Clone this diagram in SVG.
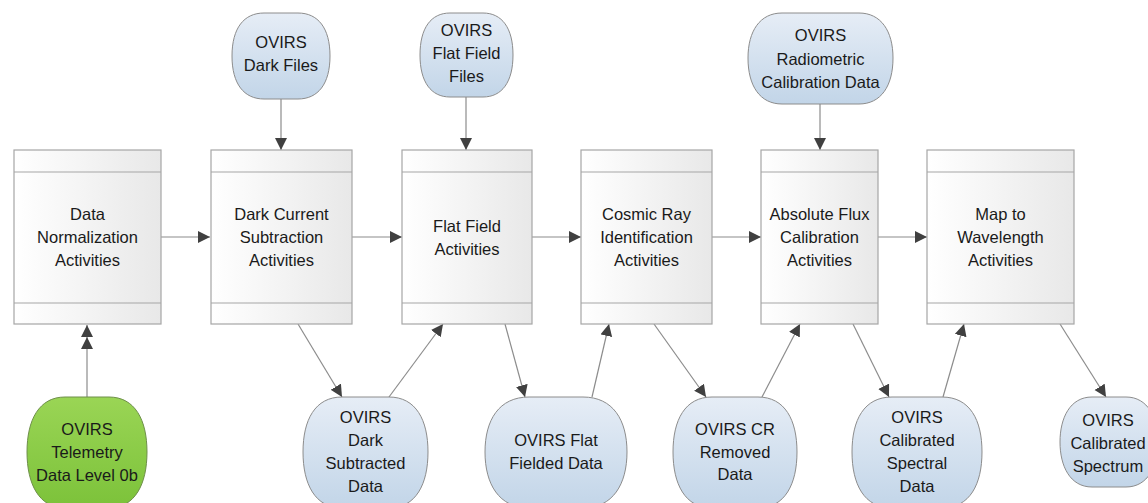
<svg xmlns="http://www.w3.org/2000/svg" width="1148" height="503" viewBox="0 0 1148 503">
<style>
text{font-family:"Liberation Sans",Arial,sans-serif;font-size:16.5px;fill:#1a1a1a;text-anchor:middle;dominant-baseline:central}
.box{fill:url(#gbox);stroke:#a6a6a6;stroke-width:1.2}
.sep{stroke:#a6a6a6;stroke-width:1.2}
.blue{fill:url(#gblue);stroke:#8c8c8c;stroke-width:1}
.green{fill:url(#ggreen);stroke:#6e8f4a;stroke-width:1}
.con{stroke:#8c8c8c;stroke-width:1.2;fill:none;marker-end:url(#arr)}
</style>
<defs>
<linearGradient id="gbox" x1="0" y1="0" x2="1" y2="0"><stop offset="0" stop-color="#ffffff"/><stop offset="1" stop-color="#e8e8e8"/></linearGradient>
<linearGradient id="gblue" x1="0" y1="0" x2="0" y2="1"><stop offset="0" stop-color="#e6edf6"/><stop offset="1" stop-color="#c2d5e8"/></linearGradient>
<linearGradient id="ggreen" x1="0" y1="0" x2="0" y2="1"><stop offset="0" stop-color="#9ad555"/><stop offset="1" stop-color="#7cc23a"/></linearGradient>
<marker id="arr" markerWidth="14" markerHeight="14" refX="12" refY="6" orient="auto" markerUnits="userSpaceOnUse"><path d="M0,0 L12,6 L0,12 Z" fill="#404040"/></marker>
<marker id="arr2" markerWidth="26" markerHeight="14" refX="24" refY="6" orient="auto" markerUnits="userSpaceOnUse"><path d="M12,0 L24,6 L12,12 Z M0,0 L12,6 L0,12 Z" fill="#404040"/></marker>
</defs>

<g id="connectors">
<line class="con" x1="161" y1="237" x2="210" y2="237"/>
<line class="con" x1="352" y1="237" x2="402" y2="237"/>
<line class="con" x1="532" y1="237" x2="581" y2="237"/>
<line class="con" x1="712" y1="237" x2="761" y2="237"/>
<line class="con" x1="878" y1="237" x2="927" y2="237"/>
<line class="con" x1="281" y1="99" x2="281" y2="150"/>
<line class="con" x1="466" y1="97" x2="466" y2="150"/>
<line class="con" x1="820" y1="104" x2="820" y2="150"/>
<line class="con" style="marker-end:url(#arr2)" x1="87" y1="397" x2="87" y2="325"/>
<line class="con" x1="298" y1="324" x2="342" y2="397"/>
<line class="con" x1="389" y1="397" x2="443" y2="324"/>
<line class="con" x1="505" y1="324" x2="525" y2="397"/>
<line class="con" x1="592" y1="397" x2="609" y2="324"/>
<line class="con" x1="654" y1="324" x2="706" y2="397"/>
<line class="con" x1="762" y1="397" x2="800" y2="324"/>
<line class="con" x1="853" y1="324" x2="889" y2="397"/>
<line class="con" x1="943" y1="397" x2="964" y2="324"/>
<line class="con" x1="1060" y1="324" x2="1106" y2="397"/>
</g>

<g id="n-norm"><rect class="box" x="14" y="150" width="147" height="174"/><line class="sep" x1="14" y1="172" x2="161" y2="172"/><line class="sep" x1="14" y1="303" x2="161" y2="303"/>
<text x="87.5" y="214">Data</text><text x="87.5" y="237">Normalization</text><text x="87.5" y="260">Activities</text></g>
<g id="n-dark"><rect class="box" x="211" y="150" width="141" height="174"/><line class="sep" x1="211" y1="172" x2="352" y2="172"/><line class="sep" x1="211" y1="303" x2="352" y2="303"/>
<text x="281.5" y="214">Dark Current</text><text x="281.5" y="237">Subtraction</text><text x="281.5" y="260">Activities</text></g>
<g id="n-flat"><rect class="box" x="402" y="150" width="130" height="174"/><line class="sep" x1="402" y1="172" x2="532" y2="172"/><line class="sep" x1="402" y1="303" x2="532" y2="303"/>
<text x="467" y="226">Flat Field</text><text x="467" y="249">Activities</text></g>
<g id="n-cosmic"><rect class="box" x="581" y="150" width="131" height="174"/><line class="sep" x1="581" y1="172" x2="712" y2="172"/><line class="sep" x1="581" y1="303" x2="712" y2="303"/>
<text x="646.5" y="214">Cosmic Ray</text><text x="646.5" y="237">Identification</text><text x="646.5" y="260">Activities</text></g>
<g id="n-abs"><rect class="box" x="761" y="150" width="117" height="174"/><line class="sep" x1="761" y1="172" x2="878" y2="172"/><line class="sep" x1="761" y1="303" x2="878" y2="303"/>
<text x="819.5" y="214">Absolute Flux</text><text x="819.5" y="237">Calibration</text><text x="819.5" y="260">Activities</text></g>
<g id="n-map"><rect class="box" x="927" y="150" width="147" height="174"/><line class="sep" x1="927" y1="172" x2="1074" y2="172"/><line class="sep" x1="927" y1="303" x2="1074" y2="303"/>
<text x="1000.5" y="214">Map to</text><text x="1000.5" y="237">Wavelength</text><text x="1000.5" y="260">Activities</text></g>

<g id="d-darkfiles"><path class="blue" d="M264,13 L298,13 C318,13 330,28 330,56 C330,84 318,99 298,99 L264,99 C244,99 232,84 232,56 C232,28 244,13 264,13 Z"/>
<text x="281" y="42">OVIRS</text><text x="281" y="65">Dark Files</text></g>
<g id="d-flatfiles"><path class="blue" d="M450,13 L483,13 C502,13 513,28 513,55 C513,82 502,97 483,97 L450,97 C431,97 420,82 420,55 C420,28 431,13 450,13 Z"/>
<text x="466.5" y="30">OVIRS</text><text x="466.5" y="53">Flat Field</text><text x="466.5" y="76">Files</text></g>
<g id="d-radio"><path class="blue" d="M782,13 L859,13 C881,13 893,31 893,58 C893,86 881,104 859,104 L782,104 C760,104 748,86 748,58 C748,31 760,13 782,13 Z"/>
<text x="820.5" y="35">OVIRS</text><text x="820.5" y="59">Radiometric</text><text x="820.5" y="82">Calibration Data</text></g>

<g id="d-telemetry"><path class="green" d="M65,397 L109,397 C135,397 147,420 147,452 C147,484 135,508 109,508 L65,508 C39,508 27,484 27,452 C27,420 39,397 65,397 Z"/>
<text x="87" y="429">OVIRS</text><text x="87" y="452">Telemetry</text><text x="87" y="475">Data Level 0b</text></g>
<g id="d-darksub"><path class="blue" d="M342,397 L389,397 C416,397 428,420 428,452 C428,484 416,508 389,508 L342,508 C315,508 303,484 303,452 C303,420 315,397 342,397 Z"/>
<text x="365.5" y="417">OVIRS</text><text x="365.5" y="440">Dark</text><text x="365.5" y="463">Subtracted</text><text x="365.5" y="486">Data</text></g>
<g id="d-flatfielded"><path class="blue" d="M529,397 L583,397 C613,397 627,420 627,452 C627,484 613,508 583,508 L529,508 C499,508 485,484 485,452 C485,420 499,397 529,397 Z"/>
<text x="556" y="440">OVIRS Flat</text><text x="556" y="463">Fielded Data</text></g>
<g id="d-cr"><path class="blue" d="M712,397 L758,397 C785,397 797,420 797,452 C797,484 785,508 758,508 L712,508 C685,508 673,484 673,452 C673,420 685,397 712,397 Z"/>
<text x="735" y="429">OVIRS CR</text><text x="735" y="452">Removed</text><text x="735" y="474">Data</text></g>
<g id="d-calspec"><path class="blue" d="M892,397 L942,397 C970,397 982,420 982,452 C982,484 970,508 942,508 L892,508 C864,508 852,484 852,452 C852,420 864,397 892,397 Z"/>
<text x="917" y="417">OVIRS</text><text x="917" y="440">Calibrated</text><text x="917" y="463">Spectral</text><text x="917" y="486">Data</text></g>
<g id="d-spectrum"><path class="blue" d="M1092,397 L1126,397 C1148,397 1158,418 1158,442 C1158,466 1148,487 1126,487 L1092,487 C1070,487 1060,466 1060,442 C1060,418 1070,397 1092,397 Z"/>
<text x="1108" y="420">OVIRS</text><text x="1108" y="443">Calibrated</text><text x="1108" y="466">Spectrum</text></g>
</svg>
